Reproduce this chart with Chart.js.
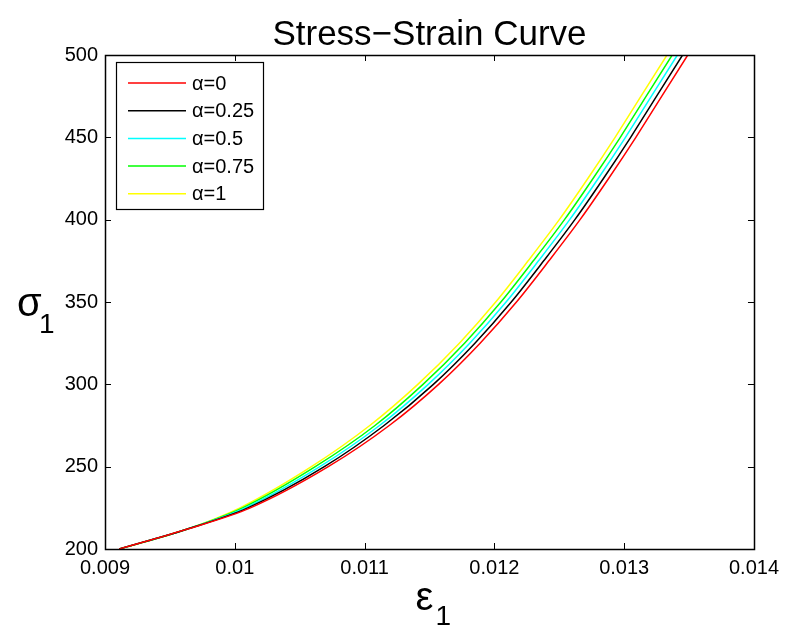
<!DOCTYPE html>
<html>
<head>
<meta charset="utf-8">
<style>
  html, body { margin: 0; padding: 0; background: #fff; }
  canvas { display: block; }
</style>
<script src="https://cdn.jsdelivr.net/npm/chart.js@4.4.1/dist/chart.umd.min.js"></script>
</head>
<body>
<canvas id="chart" width="786" height="628"></canvas>
<script>
// stress levels (y) shared by all curves, strain (x) read per curve
const stressLevels = [200, 212, 225, 250, 275, 300, 325, 350, 375, 400, 425, 450, 475, 500];
const strainAlpha0 = [0.00911, 0.00963, 0.01012, 0.01072, 0.01119, 0.01157, 0.01189, 0.01217, 0.01242, 0.01266, 0.01288, 0.01309, 0.01329, 0.01349];
const strainAlpha025 = [0.00911, 0.00963, 0.01010, 0.01069, 0.01115, 0.01153, 0.01185, 0.01213, 0.01238, 0.01262, 0.01284, 0.01305, 0.01325, 0.01345];
const strainAlpha05 = [0.00911, 0.00963, 0.01008, 0.010655, 0.011115, 0.01149, 0.01181, 0.01209, 0.01234, 0.01258, 0.01280, 0.01301, 0.01321, 0.01341];
const strainAlpha075 = [0.00911, 0.00963, 0.01006, 0.01062, 0.01108, 0.01145, 0.01177, 0.01205, 0.01230, 0.01254, 0.01276, 0.01297, 0.01317, 0.01337];
const strainAlpha1 = [0.00911, 0.00963, 0.01004, 0.01059, 0.01104, 0.01141, 0.01173, 0.01201, 0.01226, 0.01250, 0.01272, 0.01293, 0.01313, 0.01333];

const seriesLabels = ['α=0', 'α=0.25', 'α=0.5', 'α=0.75', 'α=1'];
const seriesColors = ['#ff0000', '#000000', '#00ffff', '#00ff00', '#ffff00'];
const seriesStrains = [strainAlpha0, strainAlpha025, strainAlpha05, strainAlpha075, strainAlpha1];

const xTickLabels = ['0.009', '0.01', '0.011', '0.012', '0.013', '0.014'];
const yTickLabels = ['200', '250', '300', '350', '400', '450', '500'];

const FONT = '"Liberation Sans", Arial, Helvetica, sans-serif';

const toPoints = (strains) => stressLevels.map((s, i) => ({ x: strains[i], y: s }));

// box, inward ticks, legend, title and axis labels (matlab look)
const matlabFrame = {
  id: 'matlabFrame',
  afterDraw(chart) {
    const { ctx, chartArea: a, scales } = chart;
    const tick = 6;
    ctx.save();
    ctx.strokeStyle = '#000';
    ctx.lineWidth = 1;

    ctx.beginPath();
    scales.x.ticks.forEach((t) => {
      const px = Math.round(scales.x.getPixelForValue(t.value)) + 0.5;
      ctx.moveTo(px, a.bottom); ctx.lineTo(px, a.bottom - tick);
      ctx.moveTo(px, a.top); ctx.lineTo(px, a.top + tick);
    });
    scales.y.ticks.forEach((t) => {
      const py = Math.round(scales.y.getPixelForValue(t.value)) + 0.5;
      ctx.moveTo(a.left, py); ctx.lineTo(a.left + tick, py);
      ctx.moveTo(a.right, py); ctx.lineTo(a.right - tick, py);
    });
    ctx.stroke();

    ctx.lineWidth = 1.5;
    ctx.strokeRect(Math.round(a.left) + 0.5, Math.round(a.top) + 0.5,
      Math.round(a.right - a.left), Math.round(a.bottom - a.top));

    // legend
    const lx = 116, ly = 62, lw = 147, lh = 147;
    ctx.fillStyle = '#fff';
    ctx.fillRect(lx, ly, lw, lh);
    ctx.lineWidth = 1.2;
    ctx.strokeRect(lx + 0.5, ly + 0.5, lw, lh);
    ctx.font = '20px ' + FONT;
    ctx.textBaseline = 'middle';
    ctx.textAlign = 'left';
    chart.data.datasets.forEach((ds, i) => {
      const y = ly + 21 + i * 27.7;
      ctx.strokeStyle = ds.borderColor;
      ctx.lineWidth = 1.5;
      ctx.beginPath();
      ctx.moveTo(lx + 12, y); ctx.lineTo(lx + 70, y);
      ctx.stroke();
      ctx.fillStyle = '#000';
      ctx.fillText(ds.label, lx + 76, y + 1);
    });

    // title
    const cx = (a.left + a.right) / 2;
    ctx.fillStyle = '#000';
    ctx.textAlign = 'center';
    ctx.textBaseline = 'alphabetic';
    ctx.font = '35px ' + FONT;
    ctx.fillText('Stress\u2212Strain Curve', cx, 45);

    // x label epsilon_1
    ctx.font = '40px ' + FONT;
    ctx.textAlign = 'left';
    ctx.fillText('ε', cx - 14, 610);
    ctx.font = '28px ' + FONT;
    ctx.fillText('1', cx + 6, 625);

    // y label sigma_1
    ctx.font = '40px ' + FONT;
    ctx.fillText('σ', 17, 316);
    ctx.font = '28px ' + FONT;
    ctx.fillText('1', 39, 333);
    ctx.restore();
  }
};

new Chart(document.getElementById('chart'), {
  type: 'scatter',
  data: {
    datasets: seriesLabels.map((label, i) => ({
      label,
      data: toPoints(seriesStrains[i]),
      showLine: true,
      borderColor: seriesColors[i],
      backgroundColor: seriesColors[i],
      borderWidth: 1.5,
      pointRadius: 0,
      cubicInterpolationMode: 'monotone'
    }))
  },
  options: {
    responsive: false,
    animation: false,
    devicePixelRatio: 1,
    layout: { padding: { top: 55, right: 30, left: 0, bottom: 0 } },
    plugins: {
      legend: { display: false },
      tooltip: { enabled: false },
      title: { display: false }
    },
    scales: {
      x: {
        type: 'linear',
        min: 0.009,
        max: 0.014,
        afterBuildTicks(scale) {
          scale.ticks = xTickLabels.map((l) => ({ value: parseFloat(l) }));
        },
        afterFit(scale) { scale.height = 79; },
        grid: { display: false, drawTicks: false },
        border: { display: false },
        ticks: {
          color: '#000',
          padding: 7,
          maxRotation: 0,
          font: { family: FONT, size: 20 },
          callback(value, index) { return xTickLabels[index]; }
        }
      },
      y: {
        type: 'linear',
        min: 200,
        max: 500,
        afterBuildTicks(scale) {
          scale.ticks = yTickLabels.map((l) => ({ value: parseFloat(l) }));
        },
        afterFit(scale) { scale.width = 105; },
        grid: { display: false, drawTicks: false },
        border: { display: false },
        ticks: {
          color: '#000',
          padding: 7,
          font: { family: FONT, size: 20 },
          callback(value, index) { return yTickLabels[index]; }
        }
      }
    }
  },
  plugins: [matlabFrame]
});
</script>
</body>
</html>
